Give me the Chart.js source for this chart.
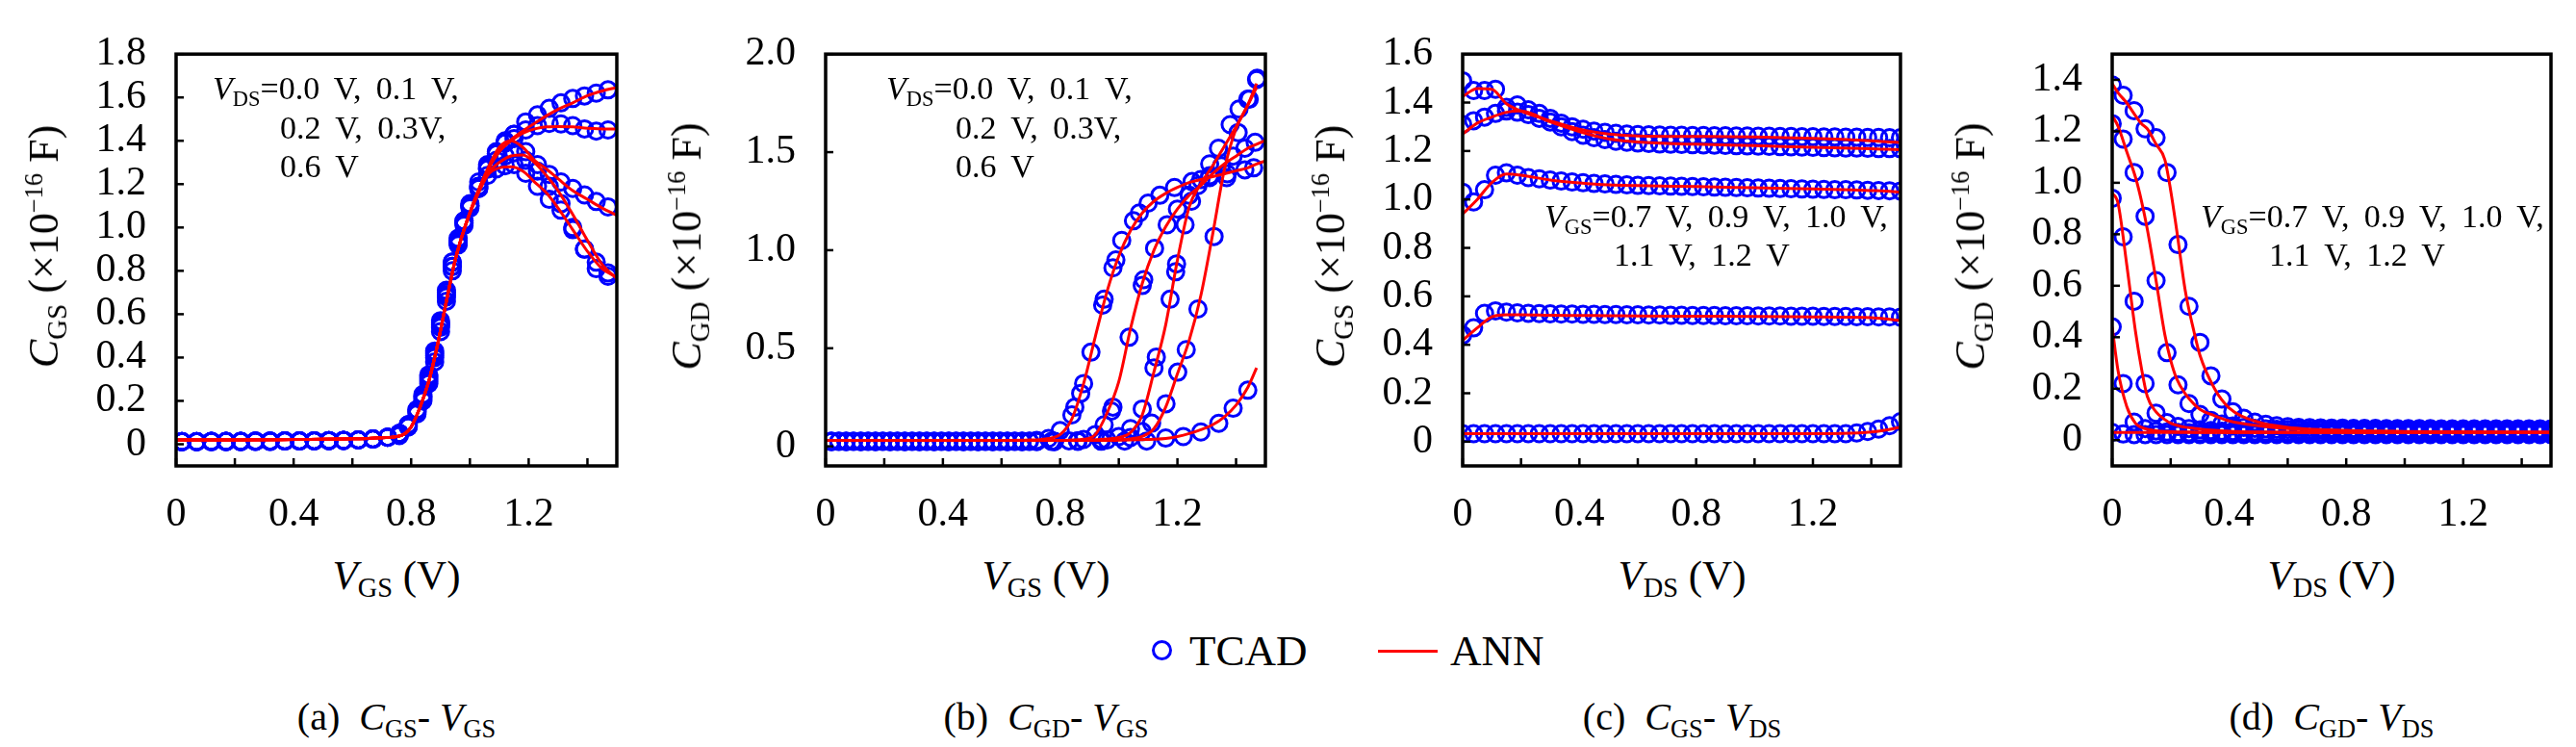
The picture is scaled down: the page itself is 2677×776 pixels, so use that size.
<!DOCTYPE html>
<html lang="en">
<head>
<meta charset="utf-8">
<title>TCAD vs ANN capacitance</title>
<script src="https://cdn.jsdelivr.net/npm/chart.js@4.4.1/dist/chart.umd.min.js"></script>
<style>
  html, body { margin: 0; padding: 0; background: #ffffff; }
  body { position: relative; width: 2677px; height: 776px; overflow: hidden;
         font-family: 'Liberation Serif', 'DejaVu Serif', serif; color: #000; }
  canvas { position: absolute; top: 0; }
  .t { position: absolute; white-space: nowrap; line-height: 1; z-index: 2; }
  .t sub { font-size: 0.66em; vertical-align: -0.3em; line-height: 0; }
  .t sup { font-size: 0.6em; vertical-align: 0.6em; line-height: 0; }
  .ytitle { font-size: 44px; transform: translate(-50%, -50%) rotate(-90deg); }
  .xtitle { font-size: 43px; transform: translate(-50%, -50%); }
  .cap { font-size: 40px; transform: translate(-50%, -50%); }
  .note { font-size: 34px; word-spacing: 0.2em; }
  .leg { font-size: 45px; transform: translateY(-50%); }
  .legCircle { position: absolute; box-sizing: border-box; width: 21px; height: 21px;
               border: 3px solid #0000ff; border-radius: 50%; }
  .legLine { position: absolute; height: 3px; background: #ff0000; }
</style>
</head>
<body>
<canvas id="chartA" width="648" height="560" style="left:23px"></canvas>
<canvas id="chartB" width="647" height="560" style="left:698px"></canvas>
<canvas id="chartC" width="645" height="560" style="left:1360px"></canvas>
<canvas id="chartD" width="646" height="560" style="left:2035px"></canvas>

<!-- axis titles -->
<div class="t ytitle" style="left:46px; top:256px"><i>C</i><sub>GS</sub>&nbsp;(×10<sup>−16</sup>&nbsp;F)</div>
<div class="t ytitle" style="left:714px; top:256px"><i>C</i><sub>GD</sub>&nbsp;(×10<sup>−16</sup>&nbsp;F)</div>
<div class="t ytitle" style="left:1383px; top:256px"><i>C</i><sub>GS</sub>&nbsp;(×10<sup>−16</sup>&nbsp;F)</div>
<div class="t ytitle" style="left:2048px; top:256px"><i>C</i><sub>GD</sub>&nbsp;(×10<sup>−16</sup>&nbsp;F)</div>

<div class="t xtitle" style="left:412px; top:597px"><i>V</i><sub>GS</sub>&nbsp;(V)</div>
<div class="t xtitle" style="left:1087px; top:597px"><i>V</i><sub>GS</sub>&nbsp;(V)</div>
<div class="t xtitle" style="left:1748px; top:597px"><i>V</i><sub>DS</sub>&nbsp;(V)</div>
<div class="t xtitle" style="left:2423px; top:597px"><i>V</i><sub>DS</sub>&nbsp;(V)</div>

<!-- bias notes inside the plots -->
<div class="t note" style="left:221px; top:75px"><i>V</i><sub>DS</sub>=0.0 V, 0.1 V,</div>
<div class="t note" style="left:291px; top:116px">0.2 V, 0.3V,</div>
<div class="t note" style="left:291px; top:156px">0.6 V</div>

<div class="t note" style="left:921px; top:75px"><i>V</i><sub>DS</sub>=0.0 V, 0.1 V,</div>
<div class="t note" style="left:993px; top:116px">0.2 V, 0.3V,</div>
<div class="t note" style="left:993px; top:156px">0.6 V</div>

<div class="t note" style="left:1605px; top:208px"><i>V</i><sub>GS</sub>=0.7 V, 0.9 V, 1.0 V,</div>
<div class="t note" style="left:1677px; top:248px">1.1 V, 1.2 V</div>

<div class="t note" style="left:2287px; top:208px"><i>V</i><sub>GS</sub>=0.7 V, 0.9 V, 1.0 V,</div>
<div class="t note" style="left:2358px; top:248px">1.1 V, 1.2 V</div>

<!-- shared legend -->
<div class="legCircle" style="left:1197px; top:665px"></div>
<div class="t leg" style="left:1236px; top:676px">TCAD</div>
<div class="legLine" style="left:1432px; top:675px; width:62px"></div>
<div class="t leg" style="left:1507px; top:676px">ANN</div>

<!-- captions -->
<div class="t cap" style="left:412px; top:745px">(a)&nbsp;&nbsp;<i>C</i><sub>GS</sub>-&nbsp;<i>V</i><sub>GS</sub></div>
<div class="t cap" style="left:1087px; top:745px">(b)&nbsp;&nbsp;<i>C</i><sub>GD</sub>-&nbsp;<i>V</i><sub>GS</sub></div>
<div class="t cap" style="left:1748px; top:745px">(c)&nbsp;&nbsp;<i>C</i><sub>GS</sub>-&nbsp;<i>V</i><sub>DS</sub></div>
<div class="t cap" style="left:2423px; top:745px">(d)&nbsp;&nbsp;<i>C</i><sub>GD</sub>-&nbsp;<i>V</i><sub>DS</sub></div>

<script>
// ---- ticks ----
const vTicks = [0, 0.2, 0.4, 0.6, 0.8, 1.0, 1.2, 1.4];
const vTickLabels = ['0', '', '0.4', '', '0.8', '', '1.2', ''];

const aTicks = [0, 0.2, 0.4, 0.6, 0.8, 1.0, 1.2, 1.4, 1.6, 1.8];
const aTickLabels = ['0', '0.2', '0.4', '0.6', '0.8', '1.0', '1.2', '1.4', '1.6', '1.8'];
const bTicks = [0, 0.5, 1.0, 1.5, 2.0];
const bTickLabels = ['0', '0.5', '1.0', '1.5', '2.0'];
const cTicks = [0, 0.2, 0.4, 0.6, 0.8, 1.0, 1.2, 1.4, 1.6];
const cTickLabels = ['0', '0.2', '0.4', '0.6', '0.8', '1.0', '1.2', '1.4', '1.6'];
const dTicks = [0, 0.2, 0.4, 0.6, 0.8, 1.0, 1.2, 1.4];
const dTickLabels = ['0', '0.2', '0.4', '0.6', '0.8', '1.0', '1.2', '1.4'];

// ---- (a) CGS vs VGS, VDS = 0.0, 0.1, 0.2, 0.3, 0.6 V ----
const aVgsTcad = [
  0.02, 0.07, 0.12, 0.17, 0.22, 0.27, 0.32, 0.37, 0.42, 0.47,
  0.52, 0.57, 0.62, 0.67, 0.72, 0.76, 0.79, 0.82, 0.84, 0.86,
  0.88, 0.90, 0.92, 0.94, 0.96, 0.98, 1.00, 1.03, 1.06, 1.09,
  1.12, 1.15, 1.19, 1.23, 1.27, 1.31, 1.35, 1.39, 1.43, 1.47
];
const aCgsTcad00 = [
  0.012, 0.012, 0.013, 0.013, 0.013, 0.014, 0.014, 0.015, 0.015, 0.016,
  0.017, 0.018, 0.02, 0.024, 0.032, 0.05, 0.09, 0.15, 0.21, 0.28,
  0.38, 0.52, 0.66, 0.80, 0.92, 1.01, 1.09, 1.18, 1.27, 1.34,
  1.39, 1.43, 1.487, 1.52, 1.55, 1.575, 1.595, 1.607, 1.62, 1.635
];
const aCgsTcad01 = [
  0.012, 0.012, 0.013, 0.013, 0.013, 0.014, 0.014, 0.015, 0.015, 0.016,
  0.017, 0.018, 0.02, 0.024, 0.032, 0.05, 0.08, 0.14, 0.20, 0.29,
  0.40, 0.55, 0.69, 0.82, 0.93, 1.02, 1.10, 1.19, 1.28, 1.34,
  1.40, 1.43, 1.45, 1.47, 1.48, 1.478, 1.47, 1.455, 1.445, 1.45
];
const aCgsTcad02 = [
  0.012, 0.012, 0.013, 0.013, 0.013, 0.014, 0.014, 0.015, 0.015, 0.016,
  0.017, 0.018, 0.02, 0.024, 0.032, 0.04, 0.08, 0.15, 0.22, 0.31,
  0.42, 0.56, 0.70, 0.84, 0.94, 1.03, 1.11, 1.21, 1.29, 1.35,
  1.39, 1.41, 1.35, 1.29, 1.245, 1.21, 1.18, 1.15, 1.12, 1.095
];
const aCgsTcad03 = [
  0.012, 0.012, 0.013, 0.013, 0.013, 0.014, 0.014, 0.015, 0.015, 0.016,
  0.017, 0.018, 0.02, 0.024, 0.032, 0.05, 0.09, 0.16, 0.22, 0.30,
  0.41, 0.54, 0.68, 0.82, 0.93, 1.02, 1.10, 1.19, 1.27, 1.31,
  1.33, 1.345, 1.31, 1.26, 1.19, 1.11, 1.00, 0.90, 0.81, 0.79
];
const aCgsTcad06 = [
  0.012, 0.012, 0.013, 0.013, 0.013, 0.014, 0.014, 0.015, 0.015, 0.016,
  0.017, 0.018, 0.02, 0.024, 0.032, 0.05, 0.09, 0.16, 0.23, 0.32,
  0.43, 0.57, 0.71, 0.84, 0.95, 1.03, 1.10, 1.18, 1.24, 1.27,
  1.285, 1.29, 1.25, 1.19, 1.13, 1.08, 0.99, 0.90, 0.84, 0.775
];
const aVgsAnn = [
  0, 0.2, 0.4, 0.6, 0.7, 0.75, 0.78, 0.8, 0.83, 0.86,
  0.89, 0.92, 0.95, 0.98, 1.02, 1.06, 1.1, 1.14, 1.18, 1.22,
  1.26, 1.3, 1.35, 1.4, 1.45, 1.5
];
const aCgsAnn00 = [
  0.02, 0.02, 0.022, 0.025, 0.03, 0.035, 0.05, 0.08, 0.17, 0.29,
  0.46, 0.66, 0.85, 0.99, 1.14, 1.265, 1.35, 1.405, 1.445, 1.48,
  1.515, 1.545, 1.575, 1.608, 1.63, 1.646
];
const aCgsAnn01 = [
  0.02, 0.02, 0.022, 0.025, 0.03, 0.035, 0.05, 0.08, 0.17, 0.29,
  0.46, 0.66, 0.85, 0.99, 1.14, 1.265, 1.35, 1.40, 1.435, 1.455,
  1.465, 1.466, 1.464, 1.458, 1.455, 1.454
];
const aCgsAnn02 = [
  0.02, 0.02, 0.022, 0.025, 0.03, 0.035, 0.05, 0.08, 0.17, 0.29,
  0.46, 0.66, 0.85, 0.99, 1.14, 1.27, 1.37, 1.40, 1.37, 1.31,
  1.27, 1.225, 1.17, 1.13, 1.09, 1.056
];
const aCgsAnn03 = [
  0.02, 0.02, 0.022, 0.025, 0.03, 0.035, 0.05, 0.08, 0.17, 0.29,
  0.46, 0.66, 0.85, 0.99, 1.14, 1.25, 1.30, 1.33, 1.335, 1.30,
  1.24, 1.17, 1.06, 0.94, 0.83, 0.764
];
const aCgsAnn06 = [
  0.02, 0.02, 0.022, 0.025, 0.03, 0.035, 0.05, 0.08, 0.17, 0.29,
  0.46, 0.66, 0.85, 0.99, 1.13, 1.24, 1.275, 1.28, 1.26, 1.21,
  1.16, 1.09, 0.99, 0.89, 0.81, 0.771
];

// ---- (b) CGD vs VGS ----
const bVgsTcad00 = [
  0.02, 0.07, 0.12, 0.17, 0.22, 0.27, 0.32, 0.37, 0.42, 0.47,
  0.52, 0.57, 0.62, 0.67, 0.72, 0.76, 0.80, 0.84, 0.85, 0.87,
  0.88, 0.905, 0.945, 0.95, 0.98, 0.99, 1.01, 1.05, 1.07, 1.10,
  1.14, 1.19, 1.25, 1.31, 1.37, 1.43, 1.46
];
const bCgdTcad00 = [
  0.025, 0.025, 0.025, 0.025, 0.025, 0.025, 0.025, 0.025, 0.025, 0.025,
  0.025, 0.025, 0.025, 0.025, 0.03, 0.04, 0.08, 0.16, 0.20, 0.27,
  0.32, 0.48, 0.72, 0.75, 0.91, 0.95, 1.05, 1.15, 1.19, 1.24,
  1.28, 1.32, 1.35, 1.37, 1.39, 1.41, 1.42
];
const bVgsTcad01 = [
  0.045, 0.095, 0.145, 0.195, 0.245, 0.295, 0.345, 0.395, 0.445, 0.495,
  0.545, 0.595, 0.645, 0.695, 0.77, 0.83, 0.88, 0.92, 0.95, 0.975,
  0.98, 1.035, 1.08, 1.085, 1.122, 1.165, 1.20, 1.24, 1.27, 1.31,
  1.35, 1.39, 1.43, 1.465
];
const bCgdTcad01 = [
  0.026, 0.026, 0.026, 0.026, 0.026, 0.026, 0.026, 0.026, 0.026, 0.026,
  0.026, 0.026, 0.026, 0.026, 0.025, 0.028, 0.035, 0.06, 0.11, 0.18,
  0.20, 0.556, 0.82, 0.85, 1.01, 1.13, 1.21, 1.28, 1.33, 1.38,
  1.43, 1.48, 1.52, 1.55
];
const bVgsTcad02 = [
  0.02, 0.07, 0.12, 0.17, 0.22, 0.27, 0.32, 0.37, 0.42, 0.47,
  0.52, 0.57, 0.62, 0.67, 0.72, 0.78, 0.86, 0.94, 1.0, 1.04,
  1.08, 1.12, 1.128, 1.175, 1.194, 1.197, 1.226, 1.248, 1.28, 1.31,
  1.34, 1.38, 1.41, 1.44, 1.47
];
const bCgdTcad02 = [
  0.024, 0.024, 0.024, 0.024, 0.024, 0.024, 0.024, 0.024, 0.024, 0.024,
  0.024, 0.024, 0.024, 0.024, 0.024, 0.025, 0.028, 0.035, 0.05, 0.09,
  0.19, 0.40, 0.455, 0.75, 0.89, 0.93, 1.13, 1.25, 1.36, 1.44,
  1.52, 1.64, 1.72, 1.77, 1.87
];
const bVgsTcad03 = [
  0.045, 0.095, 0.145, 0.195, 0.245, 0.295, 0.345, 0.395, 0.445, 0.495,
  0.545, 0.595, 0.645, 0.695, 0.78, 0.86, 0.96, 1.04, 1.08, 1.112,
  1.161, 1.201, 1.23, 1.27, 1.325, 1.368, 1.407, 1.445, 1.472
];
const bCgdTcad03 = [
  0.025, 0.025, 0.025, 0.025, 0.025, 0.025, 0.025, 0.025, 0.025, 0.025,
  0.025, 0.025, 0.025, 0.025, 0.025, 0.028, 0.032, 0.045, 0.075, 0.118,
  0.217, 0.378, 0.493, 0.70, 1.07, 1.37, 1.60, 1.77, 1.877
];
const bVgsTcad06 = [
  0.02, 0.07, 0.12, 0.17, 0.22, 0.27, 0.32, 0.37, 0.42, 0.47,
  0.52, 0.57, 0.62, 0.67, 0.72, 0.78, 0.86, 0.94, 1.02, 1.095,
  1.16, 1.22, 1.28, 1.341, 1.39, 1.44
];
const bCgdTcad06 = [
  0.026, 0.026, 0.026, 0.026, 0.026, 0.026, 0.026, 0.026, 0.026, 0.026,
  0.026, 0.026, 0.026, 0.026, 0.026, 0.025, 0.025, 0.026, 0.027, 0.027,
  0.042, 0.05, 0.073, 0.117, 0.194, 0.286
];
const bVgsAnn = [
  0, 0.2, 0.4, 0.6, 0.7, 0.75, 0.8, 0.84, 0.88, 0.92,
  0.96, 1.0, 1.04, 1.08, 1.12, 1.16, 1.2, 1.24, 1.28, 1.32,
  1.36, 1.4, 1.44, 1.47, 1.5
];
const bCgdAnn00 = [
  0.03, 0.03, 0.03, 0.03, 0.032, 0.038, 0.06, 0.14, 0.32, 0.56,
  0.79, 0.97, 1.10, 1.19, 1.25, 1.29, 1.32, 1.345, 1.36, 1.375,
  1.39, 1.405, 1.42, 1.44, 1.455
];
const bCgdAnn01 = [
  0.03, 0.03, 0.03, 0.03, 0.03, 0.03, 0.03, 0.032, 0.036, 0.06,
  0.17, 0.33, 0.60, 0.83, 1.0, 1.12, 1.21, 1.28, 1.33, 1.39,
  1.44, 1.48, 1.52, 1.54, 1.56
];
const bCgdAnn02 = [
  0.03, 0.03, 0.03, 0.03, 0.03, 0.03, 0.03, 0.03, 0.032, 0.034,
  0.038, 0.045, 0.07, 0.16, 0.38, 0.62, 0.95, 1.22, 1.34, 1.43,
  1.53, 1.63, 1.74, 1.83, null
];
const bCgdAnn03 = [
  0.03, 0.03, 0.03, 0.03, 0.03, 0.03, 0.03, 0.03, 0.03, 0.03,
  0.032, 0.034, 0.038, 0.05, 0.09, 0.20, 0.37, 0.54, 0.77, 1.08,
  1.41, 1.62, 1.74, 1.85, null
];
const bCgdAnn06 = [
  0.03, 0.03, 0.03, 0.03, 0.03, 0.03, 0.03, 0.03, 0.03, 0.03,
  0.03, 0.031, 0.032, 0.034, 0.036, 0.04, 0.05, 0.065, 0.085, 0.11,
  0.15, 0.21, 0.30, 0.40, null
];

// ---- (c) CGS vs VDS and (d) CGD vs VDS, VGS = 0.7, 0.9, 1.0, 1.1, 1.2 V ----
const vdsTcad = [
  0, 0.0375, 0.075, 0.1125, 0.15, 0.1875, 0.225, 0.2625, 0.3, 0.3375,
  0.375, 0.4125, 0.45, 0.4875, 0.525, 0.5625, 0.6, 0.6375, 0.675, 0.7125,
  0.75, 0.7875, 0.825, 0.8625, 0.9, 0.9375, 0.975, 1.0125, 1.05, 1.0875,
  1.125, 1.1625, 1.2, 1.2375, 1.275, 1.3125, 1.35, 1.3875, 1.425, 1.4625,
  1.5
];
const cCgsTcad07 = [
  0.033, 0.033, 0.033, 0.033, 0.033, 0.033, 0.033, 0.033, 0.033, 0.033,
  0.033, 0.033, 0.033, 0.033, 0.033, 0.033, 0.033, 0.033, 0.033, 0.033,
  0.033, 0.033, 0.033, 0.033, 0.033, 0.033, 0.033, 0.033, 0.033, 0.033,
  0.033, 0.033, 0.033, 0.033, 0.033, 0.033, 0.036, 0.042, 0.052, 0.066,
  0.083
];
const cCgsTcad09 = [
  0.44, 0.47, 0.53, 0.54, 0.535, 0.532, 0.53, 0.529, 0.528, 0.527,
  0.527, 0.526, 0.526, 0.525, 0.525, 0.524, 0.524, 0.523, 0.523, 0.522,
  0.522, 0.521, 0.521, 0.521, 0.52, 0.52, 0.52, 0.519, 0.519, 0.519,
  0.518, 0.518, 0.518, 0.517, 0.517, 0.517, 0.516, 0.516, 0.515, 0.515,
  0.514
];
const cCgsTcad10 = [
  1.03, 0.99, 1.04, 1.10, 1.11, 1.10, 1.09, 1.085, 1.08, 1.076,
  1.072, 1.069, 1.066, 1.064, 1.062, 1.06, 1.058, 1.057, 1.056, 1.055,
  1.054, 1.053, 1.052, 1.051, 1.05, 1.049, 1.048, 1.047, 1.046, 1.045,
  1.044, 1.043, 1.042, 1.041, 1.04, 1.04, 1.039, 1.038, 1.037, 1.036,
  1.035
];
const cCgsTcad11 = [
  1.31, 1.325, 1.34, 1.355, 1.365, 1.36, 1.35, 1.335, 1.32, 1.30,
  1.28, 1.265, 1.255, 1.247, 1.24, 1.236, 1.233, 1.231, 1.229, 1.228,
  1.227, 1.226, 1.225, 1.224, 1.223, 1.222, 1.221, 1.22, 1.219, 1.218,
  1.217, 1.216, 1.215, 1.214, 1.213, 1.212, 1.212, 1.211, 1.21, 1.21,
  1.209
];
const cCgsTcad12 = [
  1.49, 1.45, 1.45, 1.455, 1.38, 1.39, 1.37, 1.355, 1.335, 1.315,
  1.30, 1.29, 1.282, 1.277, 1.273, 1.27, 1.268, 1.267, 1.266, 1.265,
  1.265, 1.264, 1.264, 1.263, 1.263, 1.262, 1.262, 1.261, 1.261, 1.26,
  1.26, 1.259, 1.259, 1.258, 1.258, 1.257, 1.257, 1.256, 1.256, 1.255,
  1.255
];
const cVdsAnn = [0, 0.05, 0.1, 0.15, 0.2, 0.3, 0.4, 0.5, 0.6, 0.8, 1.0, 1.2, 1.3, 1.4, 1.45, 1.5];
const cCgsAnn07 = [0.033, 0.033, 0.033, 0.033, 0.033, 0.033, 0.033, 0.033, 0.033, 0.033, 0.033, 0.033, 0.034, 0.04, 0.048, 0.06];
const cCgsAnn09 = [0.418, 0.47, 0.515, 0.524, 0.524, 0.522, 0.521, 0.52, 0.519, 0.518, 0.517, 0.515, 0.514, 0.512, 0.507, 0.50];
const cCgsAnn10 = [0.94, 1.00, 1.07, 1.105, 1.10, 1.08, 1.068, 1.06, 1.057, 1.053, 1.048, 1.043, 1.04, 1.037, 1.035, 1.03];
const cCgsAnn11 = [1.27, 1.315, 1.34, 1.36, 1.365, 1.32, 1.28, 1.25, 1.237, 1.228, 1.222, 1.215, 1.212, 1.209, 1.207, 1.205];
const cCgsAnn12 = [1.425, 1.458, 1.455, 1.395, 1.365, 1.325, 1.29, 1.27, 1.262, 1.26, 1.258, 1.252, 1.248, 1.242, 1.238, 1.235];

const dCgdTcad07 = [
  0.03, 0.024, 0.022, 0.022, 0.022, 0.022, 0.022, 0.022, 0.022, 0.022,
  0.022, 0.022, 0.022, 0.022, 0.022, 0.022, 0.022, 0.022, 0.022, 0.022,
  0.022, 0.022, 0.022, 0.022, 0.022, 0.022, 0.022, 0.022, 0.022, 0.022,
  0.022, 0.022, 0.022, 0.022, 0.022, 0.022, 0.022, 0.022, 0.022, 0.022,
  0.022
];
const dCgdTcad09 = [
  0.44, 0.22, 0.07, 0.045, 0.036, 0.032, 0.03, 0.029, 0.028, 0.028,
  0.027, 0.027, 0.027, 0.027, 0.026, 0.026, 0.026, 0.026, 0.026, 0.026,
  0.026, 0.026, 0.026, 0.025, 0.025, 0.025, 0.025, 0.025, 0.025, 0.025,
  0.025, 0.025, 0.025, 0.025, 0.025, 0.025, 0.025, 0.025, 0.025, 0.025,
  0.025
];
const dCgdTcad10 = [
  0.94, 0.79, 0.54, 0.22, 0.105, 0.068, 0.053, 0.045, 0.04, 0.037,
  0.035, 0.034, 0.033, 0.033, 0.032, 0.032, 0.031, 0.031, 0.031, 0.03,
  0.03, 0.03, 0.03, 0.03, 0.03, 0.03, 0.03, 0.03, 0.03, 0.03,
  0.03, 0.03, 0.03, 0.03, 0.03, 0.03, 0.03, 0.03, 0.03, 0.03,
  0.03
];
const dCgdTcad11 = [
  1.23, 1.17, 1.04, 0.87, 0.62, 0.34, 0.215, 0.142, 0.10, 0.077,
  0.063, 0.055, 0.05, 0.046, 0.044, 0.042, 0.041, 0.04, 0.039, 0.039,
  0.038, 0.038, 0.038, 0.038, 0.038, 0.038, 0.038, 0.038, 0.038, 0.038,
  0.037, 0.037, 0.037, 0.037, 0.037, 0.037, 0.037, 0.037, 0.037, 0.037,
  0.037
];
const dCgdTcad12 = [
  1.38, 1.34, 1.28, 1.21, 1.175, 1.04, 0.76, 0.52, 0.38, 0.25,
  0.16, 0.11, 0.085, 0.07, 0.062, 0.056, 0.052, 0.05, 0.049, 0.048,
  0.047, 0.047, 0.046, 0.046, 0.046, 0.045, 0.045, 0.045, 0.045, 0.045,
  0.044, 0.044, 0.044, 0.044, 0.044, 0.044, 0.044, 0.044, 0.044, 0.044,
  0.044
];
const dVdsAnn = [0, 0.02, 0.05, 0.08, 0.1, 0.12, 0.15, 0.18, 0.2, 0.22, 0.25, 0.28, 0.3, 0.35, 0.4, 0.5, 0.6, 0.8, 1.0, 1.5];
const dCgdAnn07 = [0.03, 0.03, 0.03, 0.03, 0.03, 0.03, 0.03, 0.03, 0.03, 0.03, 0.03, 0.03, 0.03, 0.03, 0.03, 0.03, 0.03, 0.03, 0.03, 0.03];
const dCgdAnn09 = [0.44, 0.27, 0.13, 0.065, 0.05, 0.042, 0.037, 0.034, 0.033, 0.032, 0.032, 0.031, 0.031, 0.031, 0.03, 0.03, 0.03, 0.03, 0.03, 0.03];
const dCgdAnn10 = [0.96, 0.92, 0.68, 0.42, 0.28, 0.17, 0.11, 0.08, 0.066, 0.058, 0.05, 0.046, 0.043, 0.038, 0.035, 0.032, 0.031, 0.03, 0.03, 0.03];
const dCgdAnn11 = [1.26, 1.22, 1.12, 1.02, 0.93, 0.82, 0.62, 0.41, 0.31, 0.24, 0.18, 0.14, 0.12, 0.095, 0.075, 0.056, 0.045, 0.036, 0.033, 0.03];
const dCgdAnn12 = [1.385, 1.35, 1.31, 1.26, 1.23, 1.21, 1.15, 1.09, 0.97, 0.82, 0.58, 0.42, 0.33, 0.20, 0.125, 0.07, 0.05, 0.038, 0.034, 0.03];

// ---- drawing ----
Chart.defaults.font.family = "'Liberation Serif', 'DejaVu Serif', serif";
Chart.defaults.font.size = 42;
Chart.defaults.color = '#000';

// box around the plot area plus inward ticks on the left and bottom axes
const frameTicks = {
  id: 'frameTicks',
  afterDatasetsDraw(chart) {
    const { ctx, chartArea: a, scales } = chart;
    ctx.save();
    ctx.strokeStyle = '#000';
    ctx.lineWidth = 2.5;
    scales.x.ticks.forEach(t => {
      const px = scales.x.getPixelForValue(t.value);
      ctx.beginPath();
      ctx.moveTo(px, a.bottom);
      ctx.lineTo(px, a.bottom - 8);
      ctx.stroke();
    });
    scales.y.ticks.forEach(t => {
      const py = scales.y.getPixelForValue(t.value);
      ctx.beginPath();
      ctx.moveTo(a.left, py);
      ctx.lineTo(a.left + 8, py);
      ctx.stroke();
    });
    ctx.lineWidth = 3.5;
    ctx.strokeRect(a.left, a.top, a.right - a.left, a.bottom - a.top);
    ctx.restore();
  }
};

function points(xs, ys) {
  return xs.map((x, i) => ({ x: x, y: ys[i] }));
}

function tcadSet(xs, ys) {
  return {
    data: points(xs, ys),
    showLine: false,
    pointStyle: 'circle',
    pointRadius: 8.5,
    pointHoverRadius: 8.5,
    pointBorderWidth: 3,
    pointBorderColor: '#0000ff',
    pointBackgroundColor: 'rgba(0,0,0,0)',
    borderColor: '#0000ff',
    order: 1,
    clip: 0
  };
}

function annSet(xs, ys) {
  return {
    data: points(xs, ys),
    borderColor: '#ff0000',
    borderWidth: 3,
    pointRadius: 0,
    pointHoverRadius: 0,
    cubicInterpolationMode: 'monotone',
    fill: false,
    order: 0,
    clip: 0
  };
}

function makeChart(id, yMin, yMax, yTicks, yTickLabels, datasets) {
  return new Chart(document.getElementById(id), {
    type: 'line',
    data: { datasets: datasets },
    options: {
      responsive: false,
      animation: false,
      devicePixelRatio: 1,
      events: [],
      layout: { padding: { left: 0, top: 28, right: 30, bottom: 0 } },
      plugins: { legend: { display: false }, tooltip: { enabled: false } },
      scales: {
        x: {
          type: 'linear', min: 0, max: 1.5,
          grid: { display: false, drawTicks: false },
          border: { display: false },
          afterBuildTicks: s => { s.ticks = vTicks.map(v => ({ value: v })); },
          afterFit: s => { s.height = 76; },
          ticks: { autoSkip: false, maxRotation: 0, minRotation: 0, padding: 26,
                   callback: (v, i) => vTickLabels[i] }
        },
        y: {
          type: 'linear', min: yMin, max: yMax,
          grid: { display: false, drawTicks: false },
          border: { display: false },
          afterBuildTicks: s => { s.ticks = yTicks.map(v => ({ value: v })); },
          afterFit: s => { s.width = 160; },
          ticks: { autoSkip: false, padding: 31, callback: (v, i) => yTickLabels[i] }
        }
      }
    },
    plugins: [frameTicks]
  });
}

makeChart('chartA', -0.1, 1.8, aTicks, aTickLabels, [
  annSet(aVgsAnn, aCgsAnn00), annSet(aVgsAnn, aCgsAnn01), annSet(aVgsAnn, aCgsAnn02),
  annSet(aVgsAnn, aCgsAnn03), annSet(aVgsAnn, aCgsAnn06),
  tcadSet(aVgsTcad, aCgsTcad00), tcadSet(aVgsTcad, aCgsTcad01), tcadSet(aVgsTcad, aCgsTcad02),
  tcadSet(aVgsTcad, aCgsTcad03), tcadSet(aVgsTcad, aCgsTcad06)
]);

makeChart('chartB', -0.1, 2.0, bTicks, bTickLabels, [
  annSet(bVgsAnn, bCgdAnn00), annSet(bVgsAnn, bCgdAnn01), annSet(bVgsAnn, bCgdAnn02),
  annSet(bVgsAnn, bCgdAnn03), annSet(bVgsAnn, bCgdAnn06),
  tcadSet(bVgsTcad00, bCgdTcad00), tcadSet(bVgsTcad01, bCgdTcad01), tcadSet(bVgsTcad02, bCgdTcad02),
  tcadSet(bVgsTcad03, bCgdTcad03), tcadSet(bVgsTcad06, bCgdTcad06)
]);

makeChart('chartC', -0.1, 1.6, cTicks, cTickLabels, [
  annSet(cVdsAnn, cCgsAnn07), annSet(cVdsAnn, cCgsAnn09), annSet(cVdsAnn, cCgsAnn10),
  annSet(cVdsAnn, cCgsAnn11), annSet(cVdsAnn, cCgsAnn12),
  tcadSet(vdsTcad, cCgsTcad07), tcadSet(vdsTcad, cCgsTcad09), tcadSet(vdsTcad, cCgsTcad10),
  tcadSet(vdsTcad, cCgsTcad11), tcadSet(vdsTcad, cCgsTcad12)
]);

makeChart('chartD', -0.1, 1.5, dTicks, dTickLabels, [
  annSet(dVdsAnn, dCgdAnn07), annSet(dVdsAnn, dCgdAnn09), annSet(dVdsAnn, dCgdAnn10),
  annSet(dVdsAnn, dCgdAnn11), annSet(dVdsAnn, dCgdAnn12),
  tcadSet(vdsTcad, dCgdTcad07), tcadSet(vdsTcad, dCgdTcad09), tcadSet(vdsTcad, dCgdTcad10),
  tcadSet(vdsTcad, dCgdTcad11), tcadSet(vdsTcad, dCgdTcad12)
]);
</script>
</body>
</html>
